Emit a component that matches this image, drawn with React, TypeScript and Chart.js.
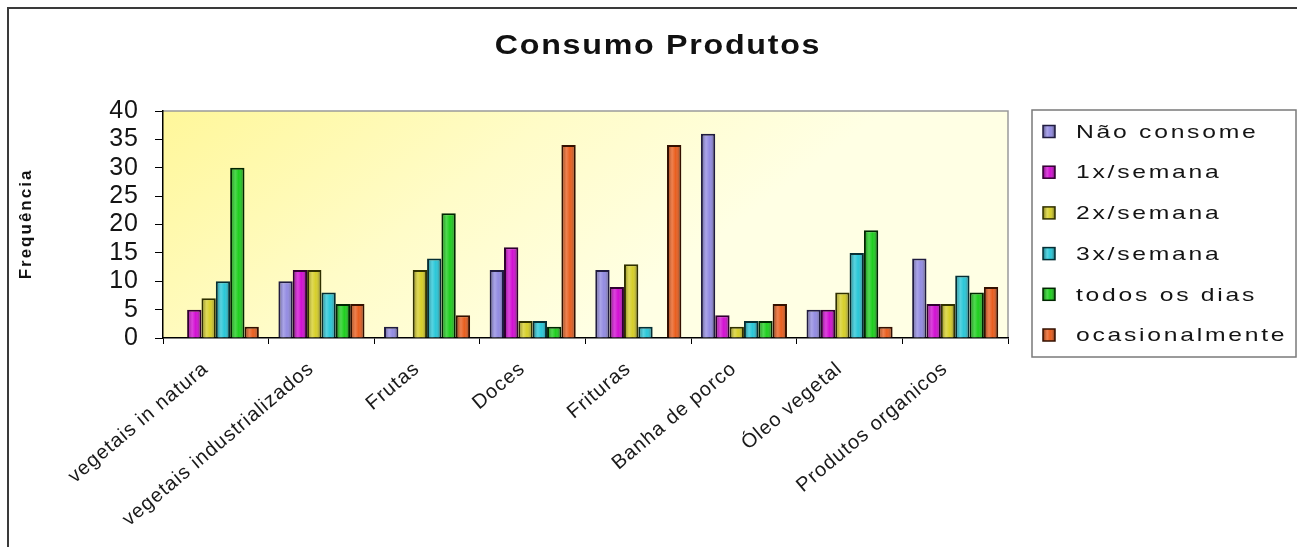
import React, { useEffect, useRef } from 'react';
import { Chart, registerables } from 'chart.js';

Chart.register(...registerables);

// Food categories along the x axis
const categories = [
  'vegetais in natura',
  'vegetais industrializados',
  'Frutas',
  'Doces',
  'Frituras',
  'Banha de porco',
  'Óleo vegetal',
  'Produtos organicos',
];

// Frequency series (number of respondents)
const seriesNames = ['Não consome', '1x/semana', '2x/semana', '3x/semana', 'todos os dias', 'ocasionalmente'];
const naoConsome = [0, 10, 2, 12, 12, 36, 5, 14];
const umaVezSemana = [5, 12, 0, 16, 9, 4, 5, 6];
const duasVezesSemana = [7, 12, 12, 3, 13, 2, 8, 6];
const tresVezesSemana = [10, 8, 14, 3, 2, 3, 15, 11];
const todosOsDias = [30, 6, 22, 2, 0, 3, 19, 8];
const ocasionalmente = [2, 6, 4, 34, 34, 6, 2, 9];

const seriesColors = ['#8c84e0', '#d000d0', '#d4cc1c', '#1cc4d6', '#10cc10', '#e85410'];
const seriesBorders = ['#201c40', '#300030', '#303000', '#052e34', '#002600', '#341000'];

const yMin = 0;
const yMax = 40;
const yStep = 5;

const chartTitle = 'Consumo Produtos';
const yTitle = 'Frequência';

const FONT = '"Liberation Sans", Arial, Helvetica, sans-serif';
const AXIS_SPACING = '1px';

function shade(ctx: CanvasRenderingContext2D, l: number, r: number) {
  const g = ctx.createLinearGradient(l, 0, r, 0);
  g.addColorStop(0, 'rgba(0,0,0,0.42)');
  g.addColorStop(0.36, 'rgba(255,255,255,0.26)');
  g.addColorStop(0.6, 'rgba(255,255,255,0.06)');
  g.addColorStop(1, 'rgba(0,0,0,0.52)');
  return g;
}

// Draws text widened horizontally around an anchor point
function wideText(
  ctx: CanvasRenderingContext2D,
  text: string,
  x: number,
  y: number,
  sx: number,
  spacing: string,
) {
  ctx.save();
  ctx.translate(x, y);
  ctx.scale(sx, 1);
  (ctx as any).letterSpacing = spacing;
  ctx.fillText(text, 0, 0);
  ctx.restore();
}

// White page, outer frame and the yellow plot background
const backdropPlugin = {
  id: 'backdrop',
  beforeUpdate(chart: any) {
    chart.ctx.letterSpacing = AXIS_SPACING;
  },
  beforeDraw(chart: any) {
    const { ctx, chartArea: a, width, height } = chart;
    ctx.save();
    ctx.fillStyle = '#ffffff';
    ctx.fillRect(0, 0, width, height);
    ctx.strokeStyle = '#3a3a3a';
    ctx.lineWidth = 2;
    ctx.strokeRect(8, 8, width + 20, height + 20);
    const g = ctx.createLinearGradient(a.left, a.top, a.left + 260, a.bottom + 120);
    g.addColorStop(0, '#fff79a');
    g.addColorStop(0.55, '#fffcc8');
    g.addColorStop(1, '#ffffe4');
    ctx.fillStyle = g;
    ctx.fillRect(a.left, a.top, a.right - a.left, a.bottom - a.top);
    ctx.strokeStyle = '#9a9a9a';
    ctx.lineWidth = 1.5;
    ctx.beginPath();
    ctx.moveTo(a.left, a.top);
    ctx.lineTo(a.right, a.top);
    ctx.lineTo(a.right, a.bottom);
    ctx.stroke();
    ctx.restore();
    ctx.letterSpacing = AXIS_SPACING;
  },
};

// Cylindrical shading over each bar
const barShadePlugin = {
  id: 'barShade',
  afterDatasetsDraw(chart: any) {
    const ctx = chart.ctx;
    chart.data.datasets.forEach((_ds: any, di: number) => {
      const meta = chart.getDatasetMeta(di);
      meta.data.forEach((el: any) => {
        const { x, y, base, width } = el.getProps(['x', 'y', 'base', 'width'], true);
        const h = base - y;
        if (h < 1) return;
        const l = x - width / 2;
        const r = x + width / 2;
        ctx.save();
        ctx.fillStyle = shade(ctx, l, r);
        ctx.fillRect(l + 2, y + 2, width - 4, h - 2);
        ctx.restore();
      });
    });
  },
};

// Title, rotated axis title and boxed legend
const textPlugin = {
  id: 'textDecor',
  afterDraw(chart: any) {
    const ctx = chart.ctx as CanvasRenderingContext2D;
    ctx.save();
    ctx.fillStyle = '#111111';
    ctx.textBaseline = 'middle';
    ctx.textAlign = 'center';
    ctx.font = `bold 28px ${FONT}`;
    wideText(ctx, chartTitle, 658, 46, 1.15, '1.5px');

    ctx.save();
    ctx.translate(26, 225);
    ctx.rotate(-Math.PI / 2);
    ctx.font = `bold 17px ${FONT}`;
    (ctx as any).letterSpacing = '2px';
    ctx.fillText(yTitle, 1, 0);
    ctx.restore();

    // legend box
    const bx = 1032, by = 110, bw = 264, bh = 247;
    ctx.fillStyle = '#ffffff';
    ctx.fillRect(bx, by, bw, bh);
    ctx.strokeStyle = '#7a7a7a';
    ctx.lineWidth = 1.5;
    ctx.strokeRect(bx, by, bw, bh);

    ctx.textAlign = 'left';
    ctx.font = `19px ${FONT}`;
    chart.data.datasets.forEach((ds: any, i: number) => {
      const cy = 131.5 + i * 40.7;
      const mx = 1043, ms = 12;
      ctx.fillStyle = seriesColors[i];
      ctx.fillRect(mx, cy - ms / 2, ms, ms);
      ctx.fillStyle = shade(ctx, mx, mx + ms);
      ctx.fillRect(mx, cy - ms / 2, ms, ms);
      ctx.strokeStyle = seriesBorders[i];
      ctx.lineWidth = 1.5;
      ctx.strokeRect(mx, cy - ms / 2, ms, ms);
      ctx.fillStyle = '#141414';
      wideText(ctx, ds.label, 1076, cy + 1, 1.3, '2.1px');
    });
    ctx.restore();
    ctx.letterSpacing = AXIS_SPACING;
  },
};

export default function App() {
  const canvasRef = useRef<HTMLCanvasElement>(null);

  useEffect(() => {
    document.body.style.margin = '0';
    const values = [naoConsome, umaVezSemana, duasVezesSemana, tresVezesSemana, todosOsDias, ocasionalmente];
    const chart = new Chart(canvasRef.current!, {
      type: 'bar',
      data: {
        labels: categories,
        datasets: seriesNames.map((name, i) => ({
          label: name,
          data: values[i],
          backgroundColor: seriesColors[i],
          borderColor: seriesBorders[i],
          borderWidth: 2,
          borderSkipped: 'bottom' as const,
          categoryPercentage: 0.815,
          barPercentage: 1.0,
        })),
      },
      options: {
        responsive: false,
        animation: false,
        devicePixelRatio: 1,
        layout: { padding: { top: 111, right: 289, bottom: 0, left: 0 } },
        plugins: {
          legend: { display: false },
          title: { display: false },
          tooltip: { enabled: false },
        },
        scales: {
          x: {
            grid: { display: true, drawOnChartArea: false, drawTicks: true, tickLength: 6, color: '#000', offset: true },
            border: { display: true, color: '#000', width: 1.5 },
            ticks: {
              autoSkip: false,
              minRotation: 40,
              maxRotation: 40,
              padding: 13,
              labelOffset: -10,
              color: '#1a1a1a',
              font: { family: FONT, size: 20 },
            },
            afterFit: (s: any) => {
              s.height = 209;
            },
          },
          y: {
            min: yMin,
            max: yMax,
            grid: { display: true, drawOnChartArea: false, drawTicks: true, tickLength: 8, color: '#000' },
            border: { display: true, color: '#000', width: 1.5 },
            ticks: {
              stepSize: yStep,
              autoSkip: false,
              padding: 16,
              color: '#141414',
              font: { family: FONT, size: 25 },
            },
            afterFit: (s: any) => {
              s.width = 163;
            },
          },
        },
      },
      plugins: [backdropPlugin, barShadePlugin, textPlugin],
    });
    return () => chart.destroy();
  }, []);

  return (
    <div style={{ width: 1297, height: 547 }}>
      <canvas ref={canvasRef} width={1297} height={547} style={{ display: 'block' }} />
    </div>
  );
}
